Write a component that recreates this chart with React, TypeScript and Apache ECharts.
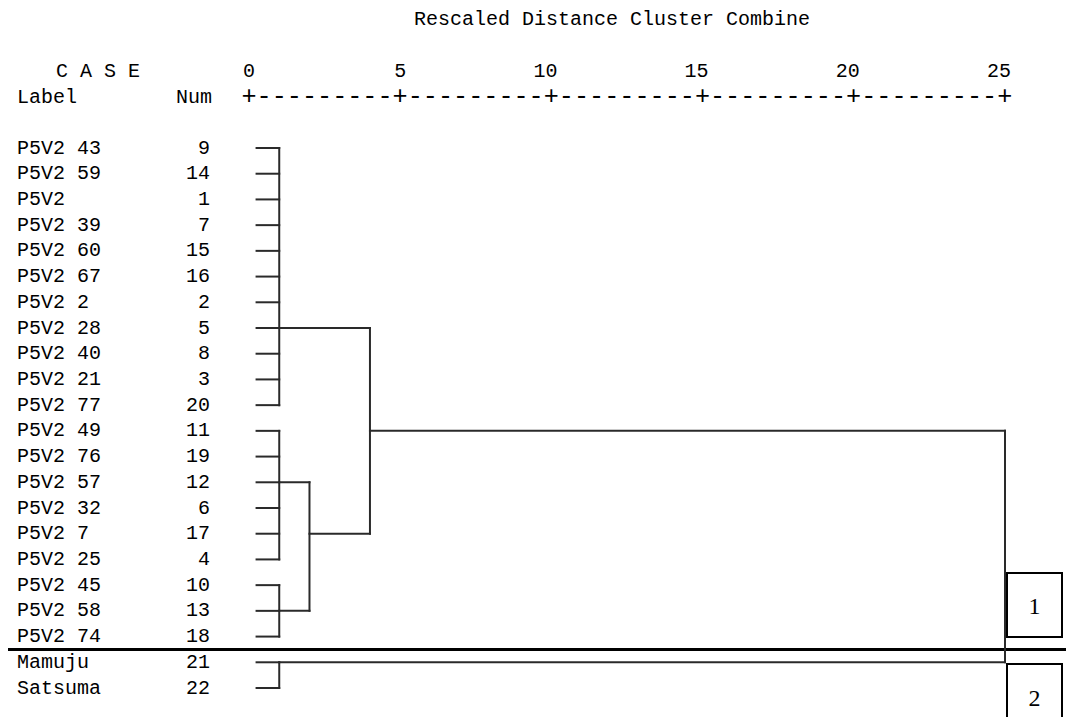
import React, { useEffect, useRef } from "react";
import * as echarts from "echarts";

// ---------- data ----------
const leafLabels = [
  "P5V2 43", "P5V2 59", "P5V2", "P5V2 39", "P5V2 60", "P5V2 67", "P5V2 2",
  "P5V2 28", "P5V2 40", "P5V2 21", "P5V2 77", "P5V2 49", "P5V2 76", "P5V2 57",
  "P5V2 32", "P5V2 7", "P5V2 25", "P5V2 45", "P5V2 58", "P5V2 74", "Mamuju", "Satsuma",
];
const leafNums = [9, 14, 1, 7, 15, 16, 2, 5, 8, 3, 20, 11, 19, 12, 6, 17, 4, 10, 13, 18, 21, 22];
const leafStart = 0.25;
// merge nodes: ids 22.. (leaves are 0..21)
const mergeChildren = [
  [0, 1, 2, 3, 4, 5, 6, 7, 8, 9, 10],
  [11, 12, 13, 14, 15, 16],
  [17, 18, 19],
  [20, 21],
  [23, 24],
  [22, 26],
  [27, 25],
];
const mergeDistances = [1, 1, 1, 1, 2, 4, 25];
const mergeRows = [7, 13, 18, 20, 15, 11, 11];
const xTicks = [0, 5, 10, 15, 20, 25];
const titleText = "Rescaled Distance Cluster Combine";
const rulerText = "+---------+---------+---------+---------+---------+";
const groupBoxes = ["1", "2"];

// ---------- layout ----------
const W = 1066;
const H = 717;
const GRID = { left: 249, right: 61, top: 148, bottom: 29 };
const MONO = "'Liberation Mono', 'Courier New', monospace";
const FS = 20;
const CW = FS * 0.6;
const RULER_FS = 25.2;
const LINE = "#2a2a2a";

const nLeaves = leafLabels.length;
const distOf = (id: number) => (id < nLeaves ? leafStart : mergeDistances[id - nLeaves]);
const rowOf = (id: number) => (id < nLeaves ? id : mergeRows[id - nLeaves]);

function buildOption() {
  const font = { fontFamily: MONO, fontSize: FS, color: "#000" };
  return {
    animation: false,
    backgroundColor: "#fff",
    grid: { ...GRID, containLabel: false },
    xAxis: {
      type: "value",
      min: 0,
      max: 25,
      interval: 5,
      position: "top",
      offset: GRID.top - 97,
      axisLine: { show: false },
      axisTick: { show: false },
      splitLine: { show: false },
      axisLabel: {
        margin: 26,
        verticalAlign: "middle",
        formatter: (v: number) => (xTicks.indexOf(v) < 0 ? "" : v >= 10 ? `{d|${v}}` : `{s|${v}}`),
        rich: {
          s: { ...font },
          d: { ...font, padding: [0, CW, 0, 0] },
        },
        ...font,
      },
    },
    yAxis: {
      type: "category",
      data: leafLabels,
      inverse: true,
      boundaryGap: false,
      axisLine: { show: false },
      axisTick: { show: false },
      splitLine: { show: false },
      axisLabel: {
        interval: 0,
        margin: 39,
        formatter: (v: string, i: number) => `{l|${v}}{n|${leafNums[i]}}`,
        rich: {
          l: { ...font, width: 150, align: "left" },
          n: { ...font, width: 43, align: "right" },
        },
        ...font,
      },
    },
    series: [
      {
        type: "custom",
        clip: false,
        encode: { x: 0, y: 1 },
        data: mergeDistances.map((d, i) => [d, mergeRows[i]]),
        renderItem: (params: any, api: any) => {
          const k = params.dataIndex;
          const d = mergeDistances[k];
          const kids = mergeChildren[k];
          const rows = kids.map(rowOf);
          const style = { stroke: LINE, lineWidth: 2, fill: "none", lineCap: "square" };
          const top = api.coord([d, Math.min(...rows)]);
          const bot = api.coord([d, Math.max(...rows)]);
          const children: any[] = [
            { type: "line", shape: { x1: top[0], y1: top[1], x2: bot[0], y2: bot[1] }, style },
          ];
          kids.forEach((c) => {
            const p1 = api.coord([distOf(c), rowOf(c)]);
            const p2 = api.coord([d, rowOf(c)]);
            children.push({
              type: "line",
              shape: { x1: p1[0], y1: p1[1], x2: p2[0], y2: p2[1] },
              style,
            });
          });
          return { type: "group", children };
        },
      },
    ],
    graphic: [
      {
        type: "text",
        x: 612,
        y: 19,
        style: { text: titleText, ...font, fill: "#000", align: "center", verticalAlign: "middle" },
      },
      {
        type: "text",
        x: 98,
        y: 71,
        style: { text: "C A S E", ...font, fill: "#000", align: "center", verticalAlign: "middle" },
      },
      {
        type: "text",
        x: 17,
        y: 97,
        style: { text: "Label", ...font, fill: "#000", align: "left", verticalAlign: "middle" },
      },
      {
        type: "text",
        x: 212,
        y: 97,
        style: { text: "Num", ...font, fill: "#000", align: "right", verticalAlign: "middle" },
      },
      {
        type: "text",
        x: GRID.left - RULER_FS * 0.3,
        y: 97,
        style: {
          text: rulerText,
          fontFamily: MONO,
          fontSize: RULER_FS,
          fill: "#000",
          align: "left",
          verticalAlign: "middle",
        },
      },
      {
        type: "line",
        shape: { x1: 8, y1: 649.5, x2: W, y2: 649.5 },
        style: { stroke: "#000", lineWidth: 3 },
      },
      {
        type: "rect",
        shape: { x: 1007, y: 573, width: 55, height: 64 },
        style: { stroke: "#000", lineWidth: 2, fill: "#fff" },
      },
      {
        type: "text",
        x: 1034.5,
        y: 606,
        style: {
          text: groupBoxes[0],
          fontFamily: "'Liberation Serif', 'Times New Roman', serif",
          fontSize: 24,
          fill: "#000",
          align: "center",
          verticalAlign: "middle",
        },
      },
      {
        type: "rect",
        shape: { x: 1007, y: 664, width: 55, height: 70 },
        style: { stroke: "#000", lineWidth: 2, fill: "#fff" },
      },
      {
        type: "text",
        x: 1034.5,
        y: 698,
        style: {
          text: groupBoxes[1],
          fontFamily: "'Liberation Serif', 'Times New Roman', serif",
          fontSize: 24,
          fill: "#000",
          align: "center",
          verticalAlign: "middle",
        },
      },
    ],
  };
}

export default function App() {
  const ref = useRef<HTMLDivElement>(null);
  useEffect(() => {
    if (!ref.current) return;
    const chart = echarts.init(ref.current, null, { renderer: "svg" });
    chart.setOption(buildOption() as any);
    return () => chart.dispose();
  }, []);
  return (
    <div
      ref={ref}
      style={{ position: "absolute", left: 0, top: 0, width: W, height: H, background: "#fff" }}
    />
  );
}
